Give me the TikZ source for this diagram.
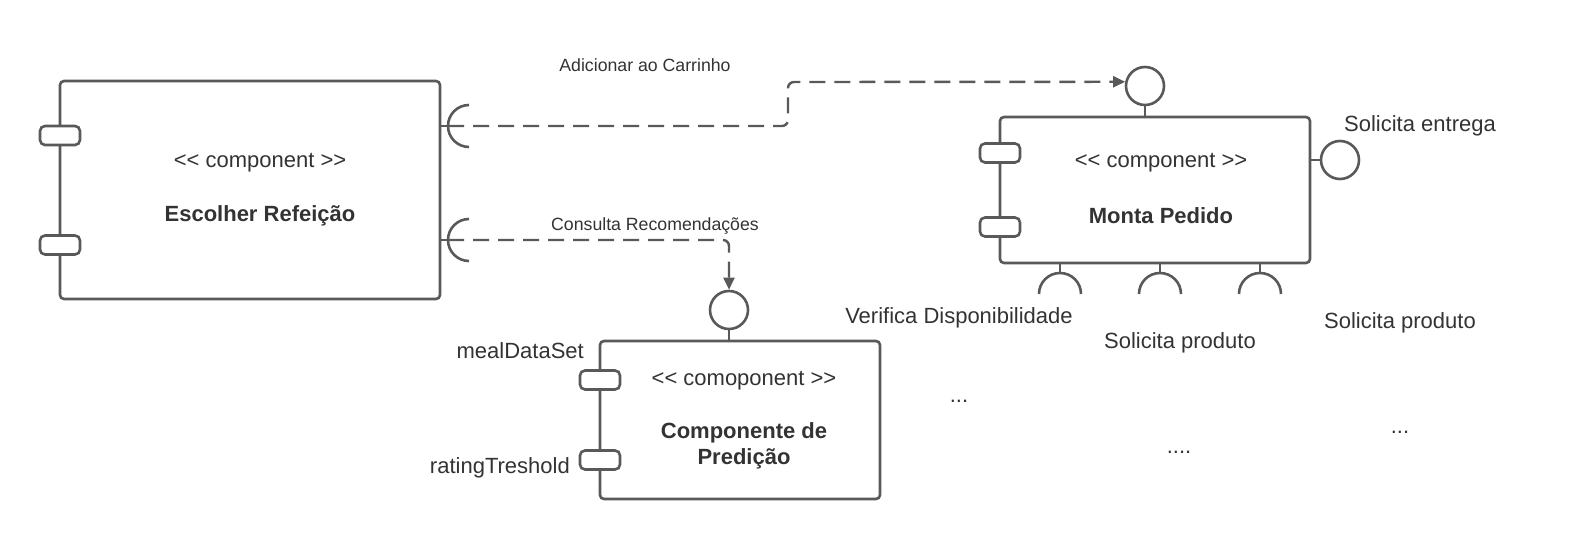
\documentclass[tikz,border=0pt]{standalone}
\usepackage{fontspec}
\setmainfont{Liberation Sans}
\usetikzlibrary{arrows.meta}
\definecolor{lineC}{RGB}{89,89,89}
\definecolor{txtC}{RGB}{51,51,51}
\newcommand{\stereo}[1]{{<}{<} #1 {>}{>}}
\begin{document}
\begin{tikzpicture}[x=1pt,y=1pt,
  comp/.style={draw=lineC,line width=2.6pt,rounded corners=4pt,fill=white,inner sep=0pt},
  port/.style={draw=lineC,line width=2.6pt,rounded corners=5pt,fill=white,minimum width=40pt,minimum height=19pt,inner sep=0pt},
  ball/.style={circle,draw=lineC,line width=2.6pt,minimum size=38pt,inner sep=0pt,fill=white},
  lbl/.style={text=txtC,font=\fontsize{22}{26}\selectfont,inner sep=0pt},
  slbl/.style={text=txtC,font=\fontsize{17.7}{21}\selectfont,inner sep=0pt},
  ttl/.style={text=txtC,font=\fontsize{22}{27}\selectfont\bfseries,inner sep=0pt,align=center},
  wire/.style={draw=lineC,line width=2.6pt},
  conn/.style={draw=lineC,line width=2.4pt,dash pattern=on 16pt off 9pt,rounded corners=6pt,-{Triangle[length=12pt,width=11pt]}}
]
\useasboundingbox[fill=white] (0,0) rectangle (1580,-540);

% components
\node[comp,minimum width=380pt,minimum height=218pt] (esc) at (250,-190) {};
\node[comp,minimum width=310pt,minimum height=146pt] (mp) at (1155,-190) {};
\node[comp,minimum width=280pt,minimum height=158pt] (pred) at (740,-420) {};

% ports
\node[port] (escp1) at (60,-135.5) {};
\node[port] (escp2) at (60,-245) {};
\node[port] (mpp1) at (1000,-153) {};
\node[port] (mpp2) at (1000,-227) {};
\node[port] (predp1) at (600,-380) {};
\node[port] (predp2) at (600,-460) {};

% texts in components
\node[lbl] (escst) at (260,-163) {\stereo{component}};
\node[ttl] (escname) at (260,-216) {Escolher Refeição};
\node[lbl] (mpst) at (1161,-163) {\stereo{component}};
\node[ttl] (mpname) at (1161,-216) {Monta Pedido};
\node[lbl] (predst) at (744,-381) {\stereo{comoponent}};
\node[ttl,font=\fontsize{22}{26}\selectfont\bfseries] (predname) at (744,-446) {Componente de\\Predição};

% required sockets on Escolher
\coordinate (sA) at (448,-126);
\coordinate (sB) at (448,-240);
\draw[wire] (esc.east |- sA) -- (sA);
\draw[wire] (sA) ++(21,21) arc[start angle=90,end angle=270,radius=21];
\draw[wire] (esc.east |- sB) -- (sB);
\draw[wire] (sB) ++(21,21) arc[start angle=90,end angle=270,radius=21];

% provided balls
\node[ball] (ballA) at (1145,-86) {};
\node[ball] (ballB) at (729,-310) {};
\node[ball] (ballC) at (1340,-160) {};
\draw[wire] (ballA.south) -- (ballA.south |- mp.north);
\draw[wire] (ballB.south) -- (ballB.south |- pred.north);
\draw[wire] (mp.east |- ballC) -- (ballC.west);

% bottom sockets of Monta Pedido
\foreach \x/\n in {1060/1,1160/2,1260/3}{
  \coordinate (bs\n) at (\x,-273);
  \draw[wire] (bs\n |- mp.south) -- (bs\n);
  \draw[wire] (bs\n) ++(-21,-21) arc[start angle=180,end angle=0,radius=21];
}

% connectors
\coordinate (t1) at (788,-126);
\coordinate (t2) at (788,-82);
\draw[conn] (sA) -- (t1) -- (t2) -- (ballA.168);
\coordinate (t3) at (729,-240);
\draw[conn] (sB) -- (t3) -- (ballB.north);

% labels
\node[slbl] (lAdd) at (645,-65) {Adicionar ao Carrinho};
\node[slbl] (lCons) at (655,-226) {Consulta Recomendações};
\node[lbl] (lEnt) at (1420,-126) {Solicita entrega};
\node[lbl] (lVer) at (959,-318) {Verifica Disponibilidade};
\node[lbl] (lSp1) at (1180,-343) {Solicita produto};
\node[lbl] (lSp2) at (1400,-323) {Solicita produto};
\node[lbl] (d1) at (959,-401) {...};
\node[lbl] (d2) at (1179,-452) {....};
\node[lbl] (d3) at (1400,-432) {...};
\node[lbl,anchor=east] (lMeal) at (584,-351) {mealDataSet};
\node[lbl,anchor=east] (lRate) at (570,-468) {ratingTreshold};
\end{tikzpicture}
\end{document}
